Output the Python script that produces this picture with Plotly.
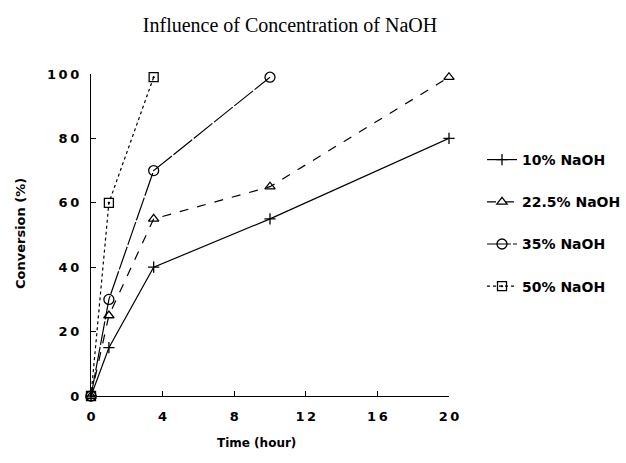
import plotly.graph_objects as go

time_10 = [0, 1, 3.5, 10, 20]
conv_10 = [0, 15, 40, 55, 80]
time_22 = [0, 1, 3.5, 10, 20]
conv_22 = [0, 25, 55, 65, 99]
time_35 = [0, 1, 3.5, 10]
conv_35 = [0, 30, 70, 99]
time_50 = [0, 1, 3.5]
conv_50 = [0, 60, 99]

names = ["10% NaOH", "22.5% NaOH", "35% NaOH", "50% NaOH"]
x_ticks = [0, 4, 8, 12, 16, 20]
y_ticks = [0, 20, 40, 60, 80, 100]

def spaced(v):
    return "\u2009".join(str(v))

series = [
    (time_10, conv_10, names[0], "solid", "cross-thin-open", 8),
    (time_22, conv_22, names[1], "dash", "triangle-up-open", 9),
    (time_35, conv_35, names[2], "24px,2px", "circle-open", 10),
    (time_50, conv_50, names[3], "dot", "square-open-dot", 9),
]

fig = go.Figure()
for i, (x, y, n, d, m, s) in enumerate(series):
    fig.add_trace(go.Scatter(
        x=x, y=y, name=n, mode="lines+markers", legendgroup=str(i),
        line=dict(color="black", width=1.2, dash=d),
        marker=dict(symbol=m, size=s, color="black", line=dict(color="black", width=1.3)),
        cliponaxis=False,
    ))

tick_font = dict(family="DejaVu Sans", size=13, color="black", weight="bold")
title_font = dict(family="DejaVu Sans", size=12, color="black", weight="bold")
fig.update_layout(
    width=626, height=463,
    margin=dict(l=91, r=177, t=74, b=67, autoexpand=False),
    paper_bgcolor="white", plot_bgcolor="white",
    title=dict(text="Influence of Concentration of NaOH", x=290/626, xref="container",
               xanchor="center", y=1-25/463, yref="container", yanchor="middle",
               font=dict(family="Liberation Serif", size=20, color="black")),
    xaxis=dict(range=[0, 20], tickvals=x_ticks, ticktext=[spaced(v) for v in x_ticks],
               showgrid=False, zeroline=False,
               showline=True, linecolor="black", linewidth=1.2, ticks="inside",
               ticklen=5, tickcolor="black", tickfont=tick_font, ticklabelstandoff=8),
    yaxis=dict(range=[0, 100], tickvals=y_ticks, ticktext=[spaced(v) for v in y_ticks],
               showgrid=False, zeroline=False,
               showline=True, linecolor="black", linewidth=1.2, ticks="inside",
               ticklen=5, tickcolor="black", tickfont=tick_font, ticklabelstandoff=8),
    legend=dict(x=(482-91)/358, xanchor="left", y=(396-144)/322, yanchor="top", tracegroupgap=21,
                font=dict(family="DejaVu Sans", size=14, color="black", weight="bold"),
                bgcolor="rgba(0,0,0,0)"),
    annotations=[
        dict(text="Time (hour)", xref="paper", yref="paper", x=(256-91)/358, y=(396-443)/322,
             xanchor="center", yanchor="middle", showarrow=False, font=title_font),
        dict(text="Conversion (%)", xref="paper", yref="paper", x=(20-91)/358, y=(396-234)/322,
             xanchor="center", yanchor="middle", showarrow=False, textangle=-90,
             font=dict(family="DejaVu Sans", size=13, color="black", weight="bold")),
    ],
)
fig.write_html("out.html", config={"displayModeBar": False},
               post_script="document.body.style.margin='0px';document.body.style.padding='0px';")
